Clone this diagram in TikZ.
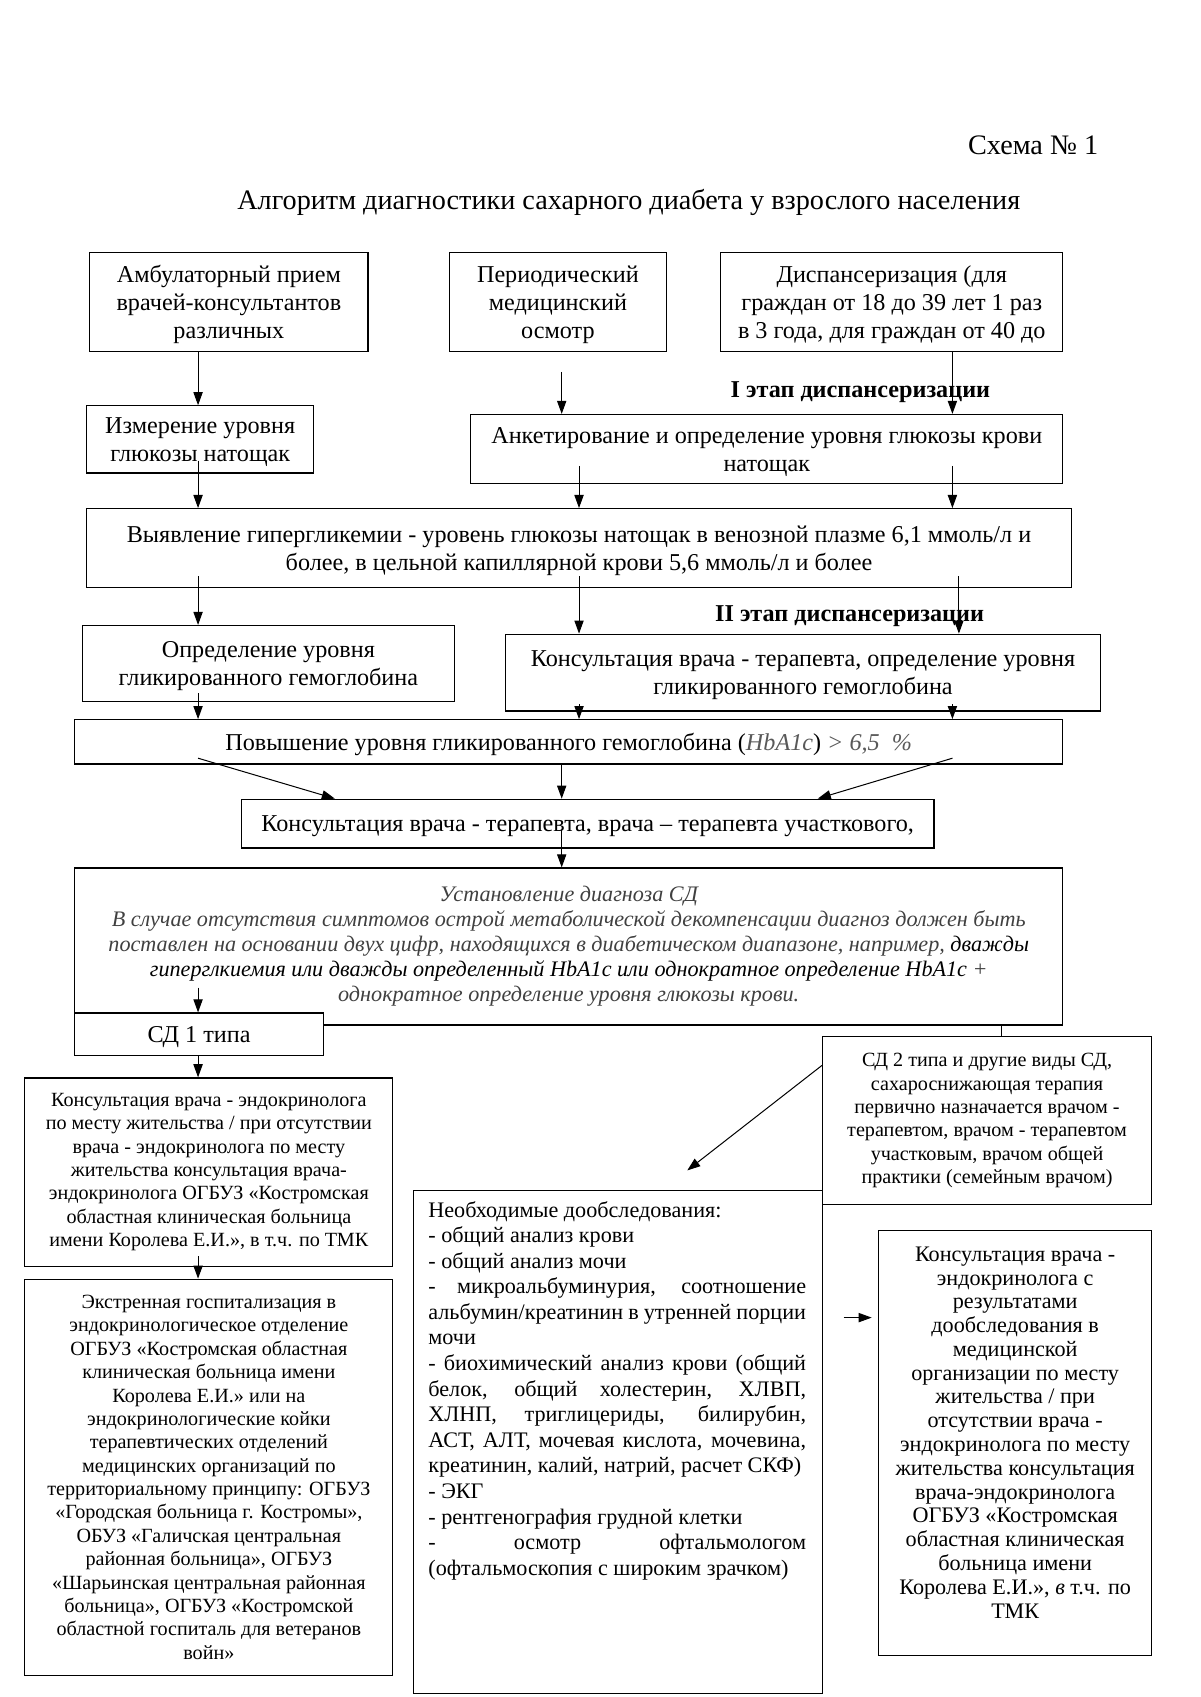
\documentclass[tikz,border=0pt]{standalone}
\usepackage{fontspec}
\setmainfont{Liberation Serif}
\usepackage{xcolor}
\usetikzlibrary{arrows.meta, calc, positioning}

\newlength{\pxl}
\setlength{\pxl}{0.537pt}
% justified line of the list box
\newcommand{\jl}[1]{\makebox[349\pxl][s]{#1}}

\tikzset{
	box/.style={draw=black, line width=0.6pt, inner sep=0pt, align=center},
	arr/.style={line width=0.5pt, -{Triangle[length=6.5pt, width=4.6pt]}},
	fbig/.style={font=\fontsize{12}{14}\selectfont, text depth=0pt},
	fdiag/.style={font=\fontsize{11}{12.35}\selectfont\itshape},
	fsmall/.style={font=\fontsize{10}{11.6}\selectfont},
	flist/.style={font=\fontsize{11}{12.7}\selectfont},
	fright/.style={font=\fontsize{11}{11.8}\selectfont},
}

\begin{document}
\begin{tikzpicture}[x=\pxl, y=-\pxl]

	\useasboundingbox (0,0) rectangle (1109,1568);

	% columns of the arrows
	\coordinate (colA) at (183,0);
	\coordinate (colP) at (519,0);
	\coordinate (colB) at (535,0);
	\coordinate (colC) at (880,0);
	\coordinate (colD) at (886,0);
	\coordinate (colE) at (925,0);

	\node[anchor=base east, inner sep=0pt, font=\fontsize{14}{16}\selectfont] (schema) at (1015,143) {Схема № 1};
	\node[anchor=base, inner sep=0pt, font=\fontsize{14}{16}\selectfont] (title) at (581,194) {Алгоритм диагностики сахарного диабета у взрослого населения};

	\node[box, fbig, minimum width=257*\pxl, minimum height=92*\pxl] (amb) at (211.5,279) {Амбулаторный прием\\врачей-консультантов\\различных};
	\node[box, fbig, minimum width=201*\pxl, minimum height=92*\pxl] (period) at (515.5,279) {Периодический\\медицинский\\осмотр};
	\node[box, fbig, minimum width=316*\pxl, minimum height=92*\pxl] (disp) at (824,279) {Диспансеризация (для\\граждан от 18 до 39 лет 1 раз\\в 3 года, для граждан от 40 до};

	\node[inner sep=0pt, fbig] (etap1) at (795,360) {\textbf{I этап диспансеризации}};

	\node[box, fbig, minimum width=210*\pxl, minimum height=62*\pxl] (izm) at (185,406) {Измерение уровня\\глюкозы натощак};
	\node[box, fbig, minimum width=547*\pxl, minimum height=64*\pxl] (anket) at (708.5,415) {Анкетирование и определение уровня глюкозы крови\\натощак};

	\node[box, fbig, minimum width=910*\pxl, minimum height=73*\pxl] (hyper) at (535,506.5) {Выявление гипергликемии - уровень глюкозы натощак в венозной плазме 6,1 ммоль/л и\\более, в цельной капиллярной крови 5,6 ммоль/л и более};

	\node[inner sep=0pt, fbig] (etap2) at (785,567) {\textbf{II этап диспансеризации}};

	\node[box, fbig, minimum width=344*\pxl, minimum height=70*\pxl] (glik) at (248,613) {Определение уровня\\гликированного гемоглобина};
	\node[box, fbig, minimum width=550*\pxl, minimum height=71*\pxl] (konsglik) at (742,621.5) {Консультация врача - терапевта, определение уровня\\гликированного гемоглобина};

	\node[box, fbig, minimum width=913*\pxl, minimum height=41*\pxl] (hba) at (525.5,685.5) {Повышение уровня гликированного гемоглобина ({\color{black!65}\itshape HbA1c}) {\color{black!65}\itshape > 6,5~~\%}};

	\node[box, fbig, minimum width=640*\pxl, minimum height=45*\pxl] (kons) at (543,761) {Консультация врача - терапевта, врача – терапевта участкового,};

	\node[box, fdiag, minimum width=913*\pxl, minimum height=145*\pxl] (diag) at (525.5,874.5) {{\color{black!75}Установление диагноза СД}\\
		{\color{black!75}В случае отсутствия симптомов острой метаболической декомпенсации диагноз должен быть}\\
		{\color{black!75}поставлен на основании двух цифр, находящихся в диабетическом диапазоне, например,} дважды\\
		гиперглкиемия или дважды определенный HbA1c или однократное определение HbA1c {\color{black!75}+}\\
		{\color{black!75}однократное определение уровня глюкозы крови.}};

	\node[box, fbig, fill=white, minimum width=230*\pxl, minimum height=39*\pxl] (sd1) at (184,955.5) {СД 1 типа};

	\node[box, fsmall, minimum width=340*\pxl, minimum height=174*\pxl] (endo) at (193,1083) {Консультация врача - эндокринолога\\по месту жительства / при отсутствии\\врача - эндокринолога по месту\\жительства консультация врача-\\эндокринолога ОГБУЗ «Костромская\\областная клиническая больница\\имени Королева Е.И.», в т.ч. по ТМК};

	\node[box, fsmall, minimum width=340*\pxl, minimum height=366*\pxl] (hosp) at (193,1365) {Экстренная госпитализация в\\эндокринологическое отделение\\ОГБУЗ «Костромская областная\\клиническая больница имени\\Королева Е.И.» или на\\эндокринологические койки\\терапевтических отделений\\медицинских организаций по\\территориальному принципу: ОГБУЗ\\«Городская больница г. Костромы»,\\ОБУЗ «Галичская центральная\\районная больница», ОГБУЗ\\«Шарьинская центральная районная\\больница», ОГБУЗ «Костромской\\областной госпиталь для ветеранов\\войн»};

	\node[box, fsmall, minimum width=304*\pxl, minimum height=155*\pxl] (sd2) at (912,1035.5) {СД 2 типа и другие виды СД,\\сахароснижающая терапия\\первично назначается врачом -\\терапевтом, врачом - терапевтом\\участковым, врачом общей\\практики (семейным врачом)};

	\node[box, minimum width=378*\pxl, minimum height=465*\pxl] (need) at (571,1332.5) {};
	\node[anchor=north west, inner sep=0pt, align=left, flist] (needtxt) at ($(need.north west)+(14,10)$) {Необходимые дообследования:\\
		- общий анализ крови\\
		- общий анализ мочи\\
		\jl{- микроальбуминурия, соотношение}\\
		\jl{альбумин/креатинин в утренней порции}\\
		мочи\\
		\jl{- биохимический анализ крови (общий}\\
		\jl{белок, общий холестерин, ХЛВП,}\\
		\jl{ХЛНП, триглицериды, билирубин,}\\
		\jl{АСТ, АЛТ, мочевая кислота, мочевина,}\\
		креатинин, калий, натрий, расчет СКФ)\\
		- ЭКГ\\
		- рентгенография грудной клетки\\
		\jl{- осмотр офтальмологом}\\
		(офтальмоскопия с широким зрачком)};

	\node[box, minimum width=252*\pxl, minimum height=393*\pxl] (endo2) at (938,1333.5) {};
	\node[inner sep=0pt, align=center, fright] (endo2txt) at ($(endo2.center)+(0,-10)$) {Консультация врача -\\эндокринолога с\\результатами\\дообследования в\\медицинской\\организации по месту\\жительства / при\\отсутствии врача -\\эндокринолога по месту\\жительства консультация\\врача-эндокринолога\\ОГБУЗ «Костромская\\областная клиническая\\больница имени\\Королева Е.И.», \textit{в} т.ч. по\\ТМК};

	% first stage
	\draw[arr] (colA |- amb.south) -- (colA |- izm.north);
	\draw[arr] ($(colP |- period.south)+(0,18)$) -- (colP |- anket.north);
	\draw[arr] (colC |- disp.south) -- (colC |- anket.north);
	\draw[arr] ($(colA |- izm.south)+(0,-12)$) -- (colA |- hyper.north);
	\draw[arr] ($(colB |- anket.south)+(0,-17)$) -- (colB |- hyper.north);
	\draw[arr] ($(colC |- anket.south)+(0,-17)$) -- (colC |- hyper.north);

	% second stage
	\draw[arr] ($(colA |- hyper.south)+(0,-11)$) -- (colA |- glik.north);
	\draw[arr] ($(colB |- hyper.south)+(0,-11)$) -- (colB |- konsglik.north);
	\draw[arr] ($(colD |- hyper.south)+(0,-11)$) -- (colD |- konsglik.north);
	\draw[arr] ($(colA |- glik.south)+(0,-8)$) -- (colA |- hba.north);
	\draw[arr] ($(colB |- konsglik.south)+(0,-7)$) -- (colB |- hba.north);
	\draw[arr] ($(colC |- konsglik.south)+(0,-7)$) -- (colC |- hba.north);

	\draw[arr] ($(colA |- hba.south)+(0,-6)$) -- ($(kons.north west)+(87,0)$);
	\draw[arr] (colP |- hba.south) -- (colP |- kons.north);
	\draw[arr] ($(colC |- hba.south)+(0,-6)$) -- ($(kons.north east)+(-108,0)$);
	\draw[arr] ($(colP |- kons.south)+(0,-17)$) -- (colP |- diag.north);

	% diagnosis
	\draw[arr] ($(colA |- diag.south)+(0,-35)$) -- (colA |- sd1.north);
	\draw[arr] (colA |- sd1.south) -- (colA |- endo.north);
	\draw[arr] ($(colA |- endo.south)+(0,-10)$) -- (colA |- hosp.north);
	\draw[line width=0.5pt] (colE |- diag.south) -- (colE |- sd2.north);
	\draw[arr] ($(sd2.north west)+(0,27)$) -- ($(need.north)+(64,-18)$);
	\draw[arr] ($(endo2.north west)+(-32,81)$) -- ($(endo2.north west)+(-6,81)$);

\end{tikzpicture}
\end{document}
